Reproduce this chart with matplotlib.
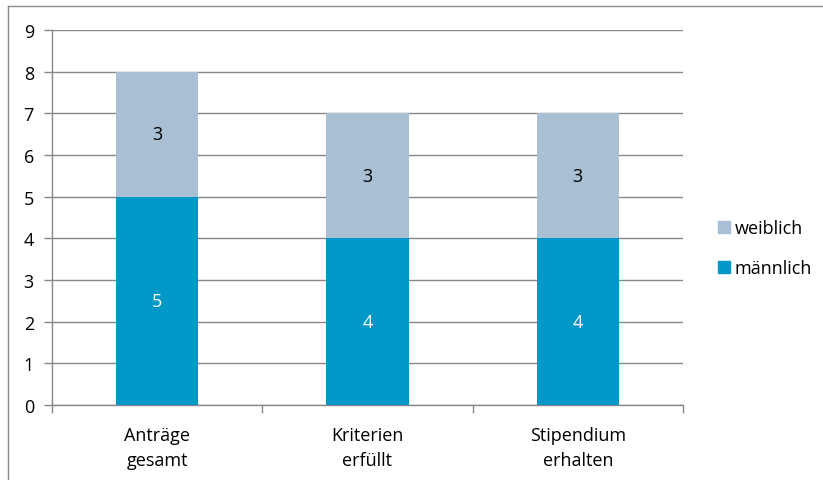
import numpy as np
import matplotlib.pyplot as plt
from matplotlib.lines import Line2D

categories = ['Anträge\ngesamt', 'Kriterien\nerfüllt', 'Stipendium\nerhalten']
maennlich = [5, 4, 4]
weiblich = [3, 3, 3]

col_m = '#0098C6'
col_w = '#A8BFD4'
grid_col = '#878787'

plt.rcParams['font.family'] = ['Open Sans', 'DejaVu Sans']
fs = 13

fig = plt.figure(figsize=(8.23, 4.81), dpi=100)
ax = fig.add_axes([52 / 823, 75 / 481, 631 / 823, 375 / 481])

x = np.arange(len(categories))
w = 0.39
ax.bar(x, maennlich, width=w, color=col_m, zorder=3)
ax.bar(x, weiblich, width=w, bottom=maennlich, color=col_w, zorder=3)

for xi, m, wb in zip(x, maennlich, weiblich):
    ax.text(xi, m / 2, str(m), ha='center', va='center', color='white', fontsize=fs, zorder=4)
    ax.text(xi, m + wb / 2, str(wb), ha='center', va='center', color='black', fontsize=fs, zorder=4)

ax.set_xlim(-0.5, len(categories) - 0.5)
ax.set_ylim(0, 9)
ax.set_yticks(range(10))
ax.yaxis.grid(True, color=grid_col, linewidth=1)
ax.set_axisbelow(True)

ax.set_xticks(x)
ax.set_xticklabels(categories, fontsize=fs, linespacing=1.5)
ax.tick_params(axis='x', length=0, pad=15)
ax.tick_params(axis='y', length=6, color=grid_col, width=1, labelsize=fs, pad=7)
# category boundary ticks
ax.set_xticks(np.arange(-0.5, len(categories)), minor=True)
ax.tick_params(axis='x', which='minor', length=6, color=grid_col, width=1)

for s in ['top', 'right']:
    ax.spines[s].set_visible(False)
for s in ['left', 'bottom']:
    ax.spines[s].set_color(grid_col)
    ax.spines[s].set_linewidth(1)

handles = [
    Line2D([], [], marker='s', linestyle='none', markersize=8, color=col_w, label='weiblich'),
    Line2D([], [], marker='s', linestyle='none', markersize=8, color=col_m, label='männlich'),
]
fig.legend(handles=handles, loc='center left', bbox_to_anchor=(697 / 823, 1 - 249 / 481),
           frameon=False, fontsize=fs, handletextpad=0.0, labelspacing=1.2, handlelength=1.2)

# outer chart border (only left and top are visible in the crop)
fig.add_artist(Line2D([8 / 823, 8 / 823], [0, 1 - 7 / 481], transform=fig.transFigure,
                      color='#8c8c8c', linewidth=1))
fig.add_artist(Line2D([8 / 823, 1], [1 - 7 / 481, 1 - 7 / 481], transform=fig.transFigure,
                      color='#8c8c8c', linewidth=1))

fig.savefig('out.png', dpi=100)
